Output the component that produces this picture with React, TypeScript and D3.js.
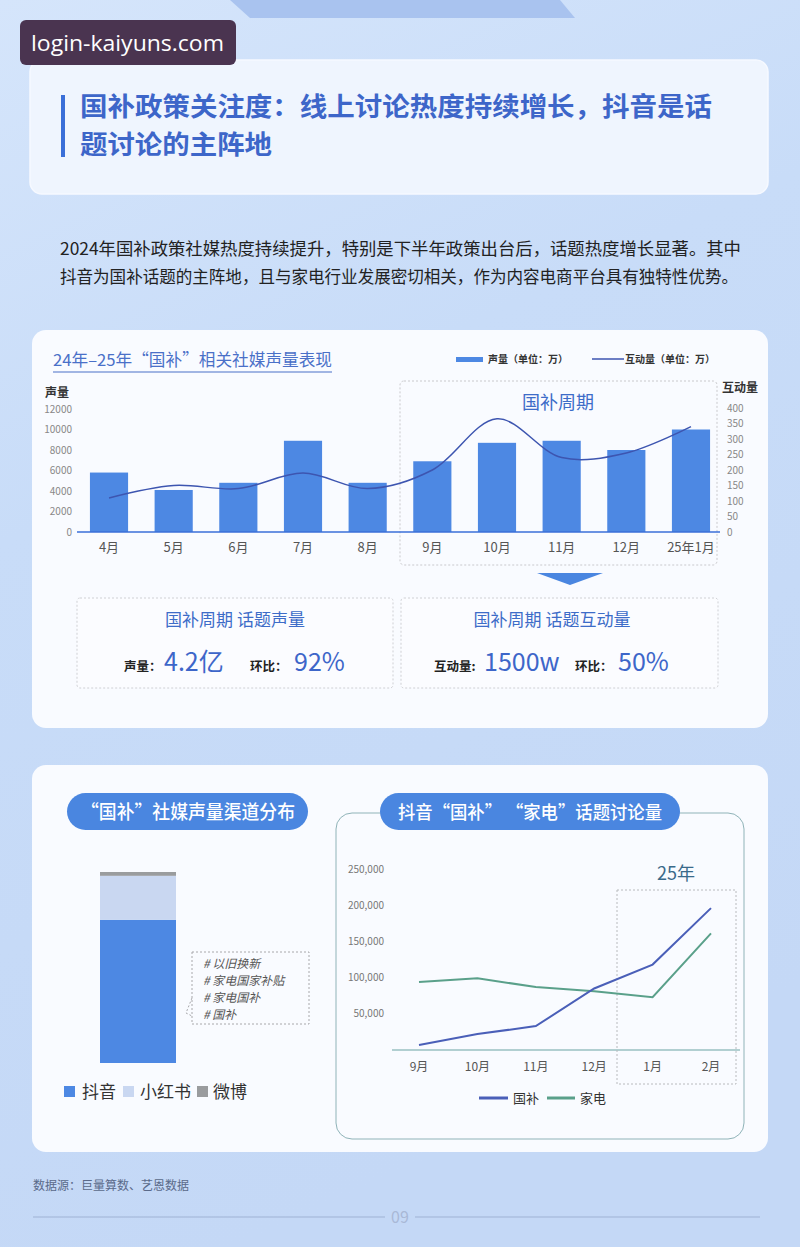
import React from "react";
import * as d3 from "d3";

const months = ["4月", "5月", "6月", "7月", "8月", "9月", "10月", "11月", "12月", "25年1月"];
const volume = [5800, 4100, 4800, 8900, 4800, 6900, 8700, 8900, 8000, 10000];
const interaction = [110, 150, 140, 190, 140, 200, 365, 240, 255, 340];
const volumeTicks = [0, 2000, 4000, 6000, 8000, 10000, 12000];
const interTicks = [0, 50, 100, 150, 200, 250, 300, 350, 400];

const channels = ["抖音", "小红书", "微博"];
const channelShare = [75, 23, 2];
const tags = ["# 以旧换新", "# 家电国家补贴", "# 家电国补", "# 国补"];

const lineMonths = ["9月", "10月", "11月", "12月", "1月", "2月"];
const guobu = [7000, 22000, 33000, 85000, 118000, 196000];
const jiadian = [94000, 99000, 87000, 81000, 73000, 161000];
const lineTicks = [50000, 100000, 150000, 200000, 250000];

const FONT = "'Noto Sans CJK SC', 'Noto Sans', sans-serif";
const BLUE = "#4d88e3";
const TITLE_BLUE = "#3d66c9";

const App = () => {
  // bar + line chart scales
  const x = d3.scaleBand().domain(months).range([77, 723]).paddingInner(0.41).paddingOuter(0.2);
  const yL = d3.scaleLinear().domain([0, 12000]).range([532, 409]);
  const yR = d3.scaleLinear().domain([0, 400]).range([532, 408]);
  const inter = d3
    .line<number>()
    .x((d, i) => (x(months[i]) as number) + x.bandwidth() / 2)
    .y(d => yR(d))
    .curve(d3.curveCatmullRom.alpha(0.5));

  // stacked channel bar
  const row: any = {};
  channels.forEach((c, i) => (row[c] = channelShare[i]));
  const stacked = d3.stack().keys(channels)([row]);
  const yS = d3.scaleLinear().domain([0, 100]).range([1063, 872]);
  const stackColors = d3.scaleOrdinal<string>().domain(channels).range([BLUE, "#c9d7f1", "#9a9c9e"]);

  // line chart scales
  const xl = d3.scalePoint().domain(lineMonths).range([419, 711]);
  const yl = d3.scaleLinear().domain([0, 250000]).range([1050, 869]);
  const mk = d3
    .line<number>()
    .x((d, i) => xl(lineMonths[i]) as number)
    .y(d => yl(d));
  const fmt = d3.format(",");

  return (
    <svg
      width={800}
      height={1247}
      style={{ position: "absolute", left: 0, top: 0, fontFamily: FONT }}
    >
      <defs>
        <linearGradient id="bg" x1="0" y1="0" x2="0.3" y2="1">
          <stop offset="0" stopColor="#d5e5fb" />
          <stop offset="0.4" stopColor="#c8dcf8" />
          <stop offset="1" stopColor="#c4d8f6" />
        </linearGradient>
      </defs>
      <rect width={800} height={1247} fill="url(#bg)" />
      <path d="M230,0 L560,0 L575,18 L250,18 Z" fill="#a9c3ef" />

      {/* header card */}
      <rect x={30} y={60} width={738} height={134} rx={12} fill="#eff5fe" stroke="#f6f9ff" strokeWidth={1.5} />
      <rect x={61} y={95} width={4} height={62} fill="#3a6fd8" />
      <text x={80} y={116} fontSize={26} fontWeight={700} fill={TITLE_BLUE} textLength={632} lengthAdjust="spacingAndGlyphs">
        国补政策关注度：线上讨论热度持续增长，抖音是话
      </text>
      <text x={80} y={154} fontSize={26} fontWeight={700} fill={TITLE_BLUE} textLength={192} lengthAdjust="spacingAndGlyphs">
        题讨论的主阵地
      </text>

      {/* watermark */}
      <rect x={20} y={20} width={216} height={45} rx={6} fill="#4a3450" />
      <text x={31} y={51} fontSize={22} fill="#ffffff" fontFamily="'Open Sans', sans-serif" textLength={193} lengthAdjust="spacingAndGlyphs">
        login-kaiyuns.com
      </text>

      <text x={60} y={255} fontSize={17.4} fill="#222" textLength={681} lengthAdjust="spacingAndGlyphs">
        2024年国补政策社媒热度持续提升，特别是下半年政策出台后，话题热度增长显著。其中
      </text>
      <text x={60} y={283} fontSize={17.4} fill="#222" textLength={678} lengthAdjust="spacingAndGlyphs">
        抖音为国补话题的主阵地，且与家电行业发展密切相关，作为内容电商平台具有独特性优势。
      </text>

      {/* card 1 */}
      <rect x={32} y={330} width={736} height={398} rx={14} fill="#f9fbff" />
      <text x={53} y={366} fontSize={16.5} fill="#4a70c8" textLength={279} lengthAdjust="spacingAndGlyphs">
        24年–25年“国补”相关社媒声量表现
      </text>
      <line x1={53} x2={332} y1={372} y2={372} stroke="#4a70c8" strokeWidth={1.2} />

      <rect x={456} y={357} width={27} height={5} fill={BLUE} />
      <text x={488} y={363} fontSize={10} fill="#333" fontWeight={700}>声量（单位：万）</text>
      <line x1={592} x2={624} y1={359} y2={359} stroke="#3d55b0" strokeWidth={1.5} />
      <text x={625} y={363} fontSize={10} fill="#333" fontWeight={700}>互动量（单位：万）</text>

      <rect x={400} y={381} width={317} height={184} rx={4} fill="none" stroke="#c9c9cc" strokeDasharray="2,2" />
      <text x={558} y={409} fontSize={18} fill="#3d6cc8" textAnchor="middle">国补周期</text>

      <text x={45} y={397} fontSize={12} fontWeight={700} fill="#333">声量</text>
      {volumeTicks.map(t => (
        <text key={t} x={72} y={yL(t) + 3.5} fontSize={10} fill="#888" textAnchor="end">{t}</text>
      ))}
      <text x={722} y={392} fontSize={12} fontWeight={700} fill="#333">互动量</text>
      {interTicks.map(t => (
        <text key={t} x={727} y={yR(t) + 3.5} fontSize={10} fill="#888">{t}</text>
      ))}

      {months.map((m, i) => (
        <rect key={m} x={x(m)} y={yL(volume[i])} width={x.bandwidth()} height={532 - yL(volume[i])} fill={BLUE} />
      ))}
      <line x1={77} x2={720} y1={532} y2={532} stroke="#3a6fd8" strokeWidth={1.5} />
      {months.map(m => (
        <text key={m} x={(x(m) as number) + x.bandwidth() / 2} y={552} fontSize={13} fill="#555" textAnchor="middle">{m}</text>
      ))}
      <path d={inter(interaction) || ""} fill="none" stroke="#3d55b0" strokeWidth={1.5} />

      <path d="M537,573 L603,573 L570,585 Z" fill="#4a86e0" />

      <rect x={77} y={598} width={316} height={90} rx={3} fill="#fbfcff" stroke="#cfd0d4" strokeDasharray="2,2" />
      <rect x={401} y={598} width={317} height={90} rx={3} fill="#fbfcff" stroke="#cfd0d4" strokeDasharray="2,2" />
      <text x={235} y={626} fontSize={17} fill="#3d6cc8" textAnchor="middle">国补周期 话题声量</text>
      <text x={124} y={671} fontSize={12.5} fontWeight={700} fill="#222">声量：</text>
      <text x={164} y={671} fontSize={25} fill="#3d66c9">4.2亿</text>
      <text x={250} y={671} fontSize={12.5} fontWeight={700} fill="#222">环比：</text>
      <text x={294} y={671} fontSize={25} fill="#3d66c9">92%</text>
      <text x={552} y={626} fontSize={17} fill="#3d6cc8" textAnchor="middle">国补周期 话题互动量</text>
      <text x={434} y={671} fontSize={12.5} fontWeight={700} fill="#222">互动量:</text>
      <text x={484} y={671} fontSize={25} fill="#3d66c9">1500w</text>
      <text x={575} y={671} fontSize={12.5} fontWeight={700} fill="#222">环比：</text>
      <text x={618} y={671} fontSize={25} fill="#3d66c9">50%</text>

      {/* card 2 */}
      <rect x={32} y={765} width={736} height={387} rx={14} fill="#f9fbff" />

      <rect x={67} y={793} width={241} height={37} rx={18.5} fill="#4a86e0" />
      <text x={188} y={819} fontSize={19} fill="#fff" textAnchor="middle" fontWeight={500} textLength={214} lengthAdjust="spacingAndGlyphs">
        “国补”社媒声量渠道分布
      </text>

      {stacked.map(s => (
        <rect
          key={s.key}
          x={100}
          width={76}
          y={yS(s[0][1])}
          height={yS(s[0][0]) - yS(s[0][1])}
          fill={stackColors(s.key)}
        />
      ))}

      <rect x={192} y={952} width={117} height={72} fill="none" stroke="#a8a8ab" strokeDasharray="2,2" />
      <path d="M192,998 L186,1013 L192,1016" fill="none" stroke="#a8a8ab" strokeDasharray="2,2" />
      {tags.map((t, i) => (
        <text key={t} x={203} y={968 + i * 17} fontSize={12} fontStyle="italic" fill="#555">{t}</text>
      ))}

      {[
        { x: 64, tx: 82 },
        { x: 123, tx: 140 },
        { x: 197, tx: 213 }
      ].map((p, i) => (
        <g key={channels[i]}>
          <rect x={p.x} y={1086} width={11} height={11} fill={stackColors(channels[i])} />
          <text x={p.tx} y={1098} fontSize={17} fill="#333">{channels[i]}</text>
        </g>
      ))}

      {/* line chart panel */}
      <rect x={336} y={813} width={408} height={326} rx={16} fill="none" stroke="#8fb3b8" strokeWidth={1} />
      <rect x={380} y={793} width={300} height={37} rx={18.5} fill="#4a86e0" />
      <text x={530} y={819} fontSize={18.5} fill="#fff" textAnchor="middle" fontWeight={500} textLength={264} lengthAdjust="spacingAndGlyphs">
        抖音“国补” “家电”话题讨论量
      </text>

      {lineTicks.map(t => (
        <text key={t} x={384} y={yl(t) + 3.5} fontSize={10} fill="#777" textAnchor="end">{fmt(t)}</text>
      ))}
      <line x1={392} x2={740} y1={1050} y2={1050} stroke="#6aa3a3" strokeWidth={1.2} />
      {lineMonths.map(m => (
        <text key={m} x={xl(m)} y={1071} fontSize={12} fill="#555" textAnchor="middle">{m}</text>
      ))}

      <rect x={617} y={890} width={119} height={194} fill="none" stroke="#b8babd" strokeDasharray="2,2" />
      <text x={676} y={880} fontSize={18} fill="#3a6a8a" textAnchor="middle">25年</text>

      <path d={mk(jiadian) || ""} fill="none" stroke="#5aa08a" strokeWidth={2} />
      <path d={mk(guobu) || ""} fill="none" stroke="#4a5fb8" strokeWidth={2} />

      <line x1={479} x2={508} y1={1098} y2={1098} stroke="#4a5fb8" strokeWidth={3} />
      <text x={513} y={1103} fontSize={13} fill="#333">国补</text>
      <line x1={547} x2={575} y1={1098} y2={1098} stroke="#5aa08a" strokeWidth={3} />
      <text x={580} y={1103} fontSize={13} fill="#333">家电</text>

      {/* footer */}
      <text x={33} y={1190} fontSize={12} fill="#5a6a8a">数据源：巨量算数、艺恩数据</text>
      <line x1={33} x2={385} y1={1217} y2={1217} stroke="#9fb2d4" strokeWidth={1} />
      <line x1={415} x2={760} y1={1217} y2={1217} stroke="#9fb2d4" strokeWidth={1} />
      <text x={400} y={1223} fontSize={16} fill="#a9b9d6" textAnchor="middle">09</text>
    </svg>
  );
};

export default App;
